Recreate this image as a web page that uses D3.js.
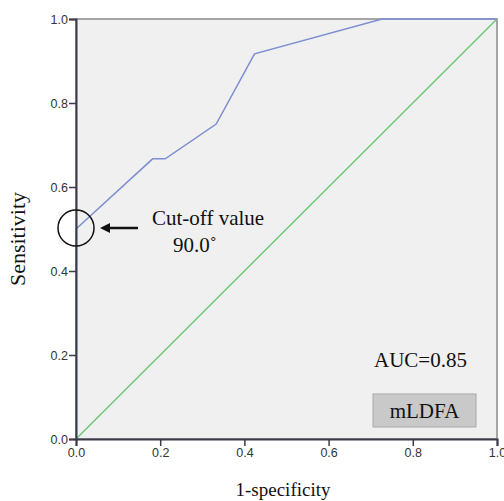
<!DOCTYPE html>
<html>
<head>
<meta charset="utf-8">
<script src="https://cdn.jsdelivr.net/npm/d3@7"></script>
<style>
  body { margin: 0; background: #fff; }
  .tick text { font-family: "Liberation Sans", Arial, sans-serif; font-size: 12.5px; fill: #333; }
  .serif { font-family: "Liberation Serif", "Times New Roman", serif; fill: #111; }
</style>
</head>
<body>
<div id="chart"></div>
<script>
const svgWidth = 504;
const svgHeight = 501;

// ROC curve points
const falsePosRate = [0, 0, 0.182, 0.212, 0.333, 0.424, 0.727, 1.0];
const truePosRate  = [0, 0.5, 0.667, 0.667, 0.75, 0.917, 1.0, 1.0];
const refLine = [[0, 0], [1, 1]];
const tickValues = [0, 0.2, 0.4, 0.6, 0.8, 1.0];
const cutoff = [0, 0.5];
const aucLabel = 'AUC=0.85';
const seriesName = 'mLDFA';

let margin = { top: 19, right: 7, bottom: 62, left: 76 };
let width = svgWidth - margin.left - margin.right;
let height = svgHeight - margin.top - margin.bottom;

let svg = d3.select('#chart')
    .append('svg')
    .attr('width', svgWidth)
    .attr('height', svgHeight);

let chartGroup = svg.append('g')
    .attr('transform', `translate(${margin.left}, ${margin.top})`);

let x = d3.scaleLinear().domain([0, 1]).range([0, width]);
let y = d3.scaleLinear().domain([0, 1]).range([height, 0]);

// plot background + frame
chartGroup.append('rect')
    .attr('width', width).attr('height', height)
    .attr('fill', '#f0f0f0')
    .attr('stroke', '#8a8a8a').attr('stroke-width', 1.5);

// diagonal reference
chartGroup.append('path')
    .datum(refLine)
    .attr('d', d3.line().x(d => x(d[0])).y(d => y(d[1])))
    .attr('fill', 'none').attr('stroke', '#6cc97a').attr('stroke-width', 1.5);

// ROC curve
let rocData = falsePosRate.map((f, i) => [f, truePosRate[i]]);
chartGroup.append('path')
    .datum(rocData)
    .attr('d', d3.line().x(d => x(d[0])).y(d => y(d[1])))
    .attr('fill', 'none').attr('stroke', '#7d8ed0').attr('stroke-width', 1.5);

// axes
let xAxis = chartGroup.append('g')
    .attr('transform', `translate(0,${height})`)
    .call(d3.axisBottom(x).tickValues(tickValues).tickFormat(d3.format('.1f')).tickSize(7).tickPadding(2));
let yAxis = chartGroup.append('g')
    .call(d3.axisLeft(y).tickValues(tickValues).tickFormat(d3.format('.1f')).tickSize(7).tickPadding(1));

[xAxis, yAxis].forEach(a => {
    a.select('.domain').attr('stroke', '#3a3a48').attr('stroke-width', 2);
    a.selectAll('.tick line').attr('stroke', '#3a3a48').attr('stroke-width', 1.5);
});

// axis titles
svg.append('text')
    .attr('class', 'serif')
    .attr('transform', `translate(25,${margin.top + height / 2 + 10})rotate(-90)`)
    .attr('text-anchor', 'middle')
    .style('font-size', '22px')
    .text('Sensitivity');

svg.append('text')
    .attr('class', 'serif')
    .attr('x', 283).attr('y', 496)
    .attr('text-anchor', 'middle')
    .style('font-size', '19px')
    .text('1-specificity');

// cut-off marker
chartGroup.append('circle')
    .attr('cx', x(cutoff[0])).attr('cy', y(cutoff[1]) - 1)
    .attr('r', 18)
    .attr('fill', 'none').attr('stroke', '#111').attr('stroke-width', 1.5);

svg.append('defs').append('marker')
    .attr('id', 'arrowhead')
    .attr('viewBox', '0 0 10 10')
    .attr('refX', 1).attr('refY', 5)
    .attr('markerWidth', 4).attr('markerHeight', 4)
    .attr('orient', 'auto-start-reverse')
    .append('path').attr('d', 'M0,0 L10,5 L0,10 Z').attr('fill', '#111');

chartGroup.append('line')
    .attr('x1', x(cutoff[0]) + 62).attr('x2', x(cutoff[0]) + 33)
    .attr('y1', y(cutoff[1]) - 1).attr('y2', y(cutoff[1]) - 1)
    .attr('stroke', '#111').attr('stroke-width', 2.5)
    .attr('marker-end', 'url(#arrowhead)');

svg.append('text')
    .attr('class', 'serif')
    .attr('x', 152).attr('y', 225)
    .style('font-size', '21px')
    .text('Cut-off value');

svg.append('text')
    .attr('class', 'serif')
    .attr('x', 173).attr('y', 252)
    .style('font-size', '21px')
    .text('90.0˚');

// AUC text and legend box
svg.append('text')
    .attr('class', 'serif')
    .attr('x', 374).attr('y', 367)
    .style('font-size', '21px')
    .text(aucLabel);

svg.append('rect')
    .attr('x', 373).attr('y', 394)
    .attr('width', 103).attr('height', 33)
    .attr('fill', '#c9c9c9').attr('stroke', '#a8a8a8');

svg.append('text')
    .attr('class', 'serif')
    .attr('x', 424.5).attr('y', 418)
    .attr('text-anchor', 'middle')
    .style('font-size', '21px')
    .text(seriesName);
</script>
</body>
</html>
